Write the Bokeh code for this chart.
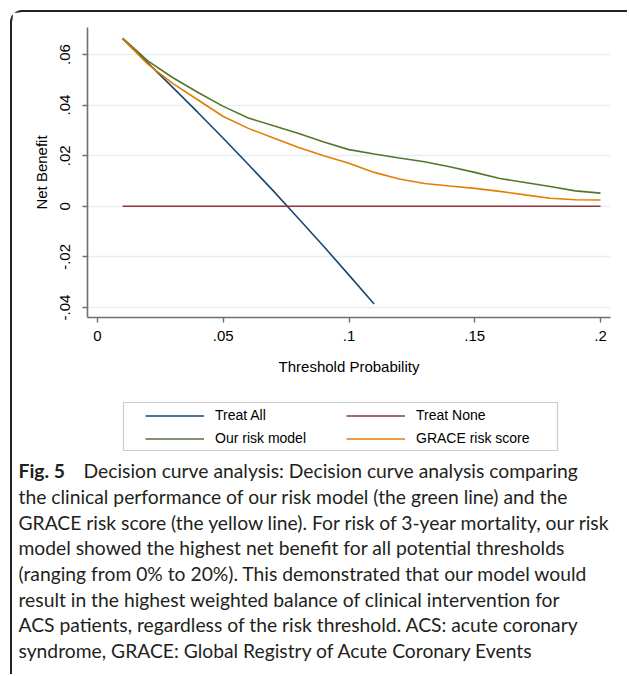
from bokeh.plotting import figure
from bokeh.layouts import column
from bokeh.models import Range1d, FixedTicker, Legend, LegendItem, Label, BoxAnnotation
from bokeh.embed import file_html
from bokeh.resources import INLINE

# ---------------- data ----------------
thresholds = [0.01, 0.02, 0.03, 0.04, 0.05, 0.06, 0.07, 0.08, 0.09, 0.10,
              0.11, 0.12, 0.13, 0.14, 0.15, 0.16, 0.17, 0.18, 0.19, 0.20]
treat_all_t = [0.01, 0.02, 0.03, 0.04, 0.05, 0.06, 0.07, 0.08, 0.09, 0.10, 0.11]
treat_all = [0.0662, 0.0567, 0.0469, 0.0370, 0.0269, 0.0165, 0.0060,
             -0.0049, -0.0159, -0.0272, -0.0386]
treat_none = [0.0] * 20
our_model = [0.0665, 0.0575, 0.0508, 0.0450, 0.0395, 0.0349, 0.0318, 0.0288,
             0.0254, 0.0224, 0.0207, 0.0191, 0.0176, 0.0156, 0.0134, 0.0110,
             0.0094, 0.0078, 0.0061, 0.0052]
grace = [0.0662, 0.0562, 0.0485, 0.0420, 0.0355, 0.0308, 0.0270, 0.0232,
         0.0200, 0.0170, 0.0134, 0.0108, 0.0090, 0.0080, 0.0071, 0.0059,
         0.0045, 0.0032, 0.0026, 0.0025]

x_ticks = [0, 0.05, 0.1, 0.15, 0.2]
x_tick_labels = ["0", ".05", ".1", ".15", ".2"]
y_ticks = [-0.04, -0.02, 0, 0.02, 0.04, 0.06]
y_tick_labels = ["-.04", "-.02", "0", ".02", ".04", ".06"]

legend_labels = ["Treat All", "Treat None", "Our risk model", "GRACE risk score"]
series_colors = ["#1a476f", "#90353b", "#55752f", "#e37e00"]

x_title = "Threshold Probability"
y_title = "Net Benefit"

caption_head = "Fig. 5"
caption_lines = [
    "Decision curve analysis: Decision curve analysis comparing",
    "the clinical performance of our risk model (the green line) and the",
    "GRACE risk score (the yellow line). For risk of 3-year mortality, our risk",
    "model showed the highest net benefit for all potential thresholds",
    "(ranging from 0% to 20%). This demonstrated that our model would",
    "result in the highest weighted balance of clinical intervention for",
    "ACS patients, regardless of the risk threshold. ACS: acute coronary",
    "syndrome, GRACE: Global Registry of Acute Coronary Events",
]

FONT = "Liberation Sans"
CAP_FONT = "Lato"
CAP_SIZE = "19.3px"
AX_COLOR = "#6f6f6f"

series = [(treat_all_t, treat_all), (thresholds, treat_none),
          (thresholds, our_model), (thresholds, grace)]

# ---------------- chart figure ----------------
W1, H1 = 615, 373
p = figure(width=W1, height=H1, output_backend="svg", toolbar_location=None,
           x_range=Range1d(-0.00398, 0.20398), y_range=Range1d(-0.04395, 0.07067),
           min_border_left=75, min_border_right=W1 - 75 - 523, min_border_top=15,
           min_border_bottom=H1 - 15 - 290)
p.frame_align = False
p.outline_line_color = None
p.background_fill_color = "white"
p.border_fill_color = "white"

for ax in (p.xaxis[0], p.yaxis[0]):
    ax.axis_line_color = AX_COLOR
    ax.axis_line_width = 1.6
    ax.major_tick_line_color = AX_COLOR
    ax.major_tick_line_width = 1.4
    ax.major_tick_out = 5
    ax.major_tick_in = 0
    ax.minor_tick_line_color = None
    ax.major_label_text_font = FONT
    ax.major_label_text_font_size = "15px"
    ax.major_label_text_color = "black"
    ax.axis_label_text_font = FONT
    ax.axis_label_text_font_size = "15px"
    ax.axis_label_text_font_style = "normal"
    ax.axis_label_text_color = "black"

p.xaxis[0].ticker = FixedTicker(ticks=x_ticks)
p.xaxis[0].major_label_overrides = dict(zip(x_ticks, x_tick_labels))
p.xaxis[0].axis_label = x_title
p.xaxis[0].major_label_standoff = 8
p.xaxis[0].axis_label_standoff = 14

p.yaxis[0].ticker = FixedTicker(ticks=y_ticks)
p.yaxis[0].major_label_overrides = dict(zip(y_ticks, y_tick_labels))
p.yaxis[0].major_label_orientation = "vertical"
p.yaxis[0].axis_label = y_title
p.yaxis[0].major_label_standoff = 12
p.yaxis[0].axis_label_standoff = 8

p.xgrid.grid_line_color = None
p.ygrid.ticker = FixedTicker(ticks=y_ticks)
p.ygrid.grid_line_color = "#e6eff1"
p.ygrid.grid_line_width = 1.5

for (xs, ys), c in zip(series, series_colors):
    p.line(xs, ys, line_color=c, line_width=1.6)

# ---------------- legend + caption figure ----------------
W2, H2 = 615, 289
q = figure(width=W2, height=H2, output_backend="svg", toolbar_location=None,
           x_range=Range1d(0, W2), y_range=Range1d(H2, 0),
           x_axis_location=None, y_axis_location=None,
           min_border=0, min_border_left=0, min_border_right=0,
           min_border_top=0, min_border_bottom=0)
q.frame_align = False
q.outline_line_color = None
q.grid.visible = False
q.background_fill_color = "white"
q.border_fill_color = "white"

# legend-only renderers (hidden in this panel; the lines are drawn in the chart)
legend_renderers = [q.line(xs, ys, line_color=c, line_width=1.6, visible=False)
                    for (xs, ys), c in zip(series, series_colors)]
legend = Legend(items=[LegendItem(label=lab, renderers=[r]) for lab, r in
                       zip(legend_labels, legend_renderers)],
                orientation="horizontal", ncols=2,
                location=(133, H2 - 61.5), padding=0, margin=0, spacing=6,
                glyph_width=59, glyph_height=17, label_standoff=11,
                label_width=125, label_height=17,
                label_text_font=FONT, label_text_font_size="14px",
                label_text_color="black",
                border_line_alpha=0, background_fill_alpha=0)
q.add_layout(legend, "center")

q.add_layout(BoxAnnotation(left=111, right=545, top=17, bottom=65,
                           fill_alpha=0, line_color="#555555", line_width=1.2))

line_y = [85, 111, 136.5, 162, 188, 213.5, 239, 264.5]
q.add_layout(Label(x=6, y=line_y[0], text=caption_head, text_font=CAP_FONT,
                   text_font_size=CAP_SIZE, text_font_style="bold",
                   text_color="#231f20", text_baseline="middle"))
for i, txt in enumerate(caption_lines):
    q.add_layout(Label(x=71 if i == 0 else 6, y=line_y[i], text=txt,
                       text_font=CAP_FONT, text_font_size=CAP_SIZE,
                       text_color="#231f20", text_baseline="middle"))

layout = column(p, q, spacing=0, margin=(10, 0, 0, 10),
                styles={"border-top": "2px solid #222",
                        "border-left": "2px solid #222",
                        "border-top-left-radius": "12px"})

open("out.html", "w").write(file_html(layout, INLINE))
